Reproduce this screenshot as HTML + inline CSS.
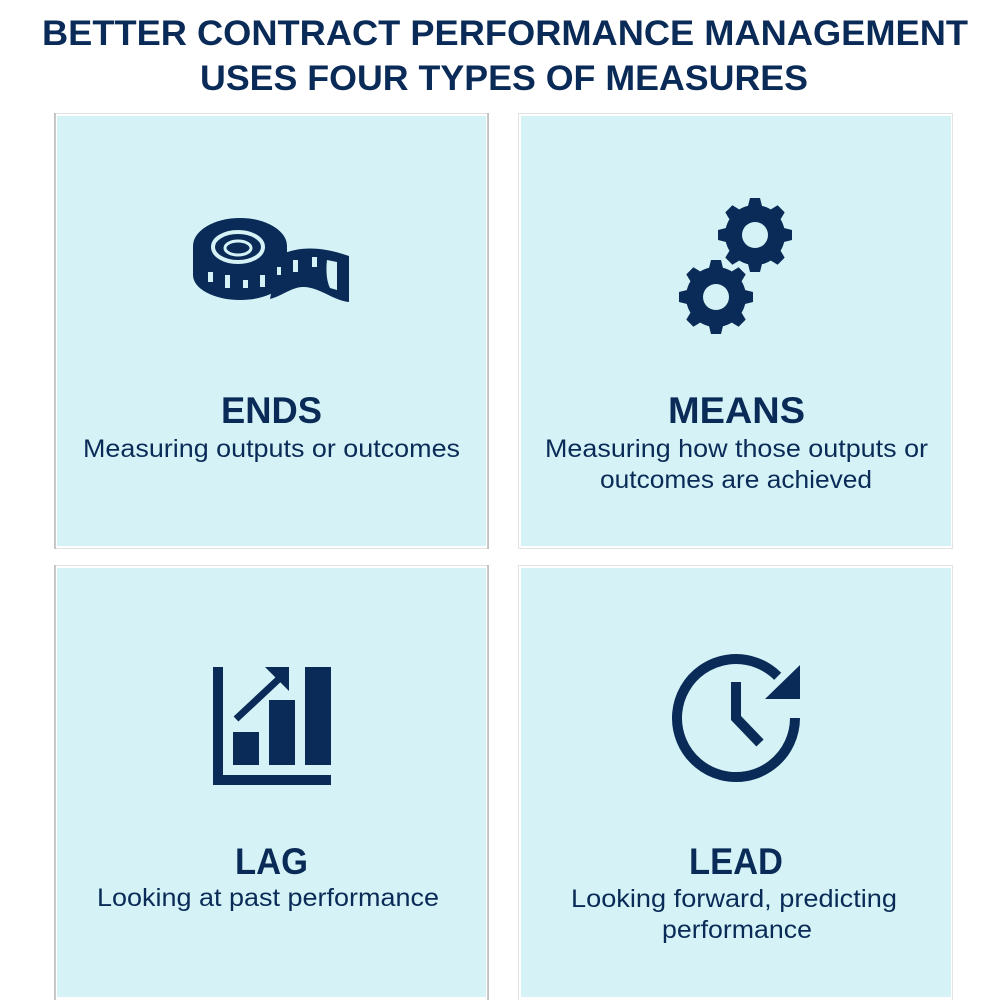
<!DOCTYPE html>
<html><head><meta charset="utf-8"><style>
html,body{margin:0;padding:0;background:#fff;}
svg{display:block;}
text{font-family:"Liberation Sans",sans-serif;fill:#0a2b57;}
</style></head><body>
<svg width="1007" height="1000" viewBox="0 0 1007 1000" xmlns="http://www.w3.org/2000/svg">
<defs>
<g id="gear">
<circle r="30"/>
<polygon points="-7.5,-27 -5,-37 5,-37 7.5,-27" transform="rotate(0)"/>
<polygon points="-7.5,-27 -5,-37 5,-37 7.5,-27" transform="rotate(45)"/>
<polygon points="-7.5,-27 -5,-37 5,-37 7.5,-27" transform="rotate(90)"/>
<polygon points="-7.5,-27 -5,-37 5,-37 7.5,-27" transform="rotate(135)"/>
<polygon points="-7.5,-27 -5,-37 5,-37 7.5,-27" transform="rotate(180)"/>
<polygon points="-7.5,-27 -5,-37 5,-37 7.5,-27" transform="rotate(225)"/>
<polygon points="-7.5,-27 -5,-37 5,-37 7.5,-27" transform="rotate(270)"/>
<polygon points="-7.5,-27 -5,-37 5,-37 7.5,-27" transform="rotate(315)"/>
</g>
</defs>
<rect width="1007" height="1000" fill="#fff"/>
<!-- Title -->
<text x="42" y="45" font-size="35" font-weight="bold" textLength="926" lengthAdjust="spacingAndGlyphs">BETTER CONTRACT PERFORMANCE MANAGEMENT</text>
<text x="200" y="90" font-size="35" font-weight="bold" textLength="608" lengthAdjust="spacingAndGlyphs">USES FOUR TYPES OF MEASURES</text>

<!-- Panels -->
<g fill="none" stroke="#e3e3e3" stroke-width="1">
<rect x="54.5" y="113.5" width="434" height="435"/>
<rect x="518.5" y="113.5" width="434" height="435"/>
<rect x="54.5" y="565.5" width="434" height="440"/>
<rect x="518.5" y="565.5" width="434" height="440"/>
</g>
<g stroke="#b8b8b8" stroke-width="1.5">
<line x1="55" y1="113" x2="55" y2="549"/>
<line x1="488" y1="113" x2="488" y2="549"/>
<line x1="55" y1="565" x2="55" y2="1000"/>
<line x1="488" y1="565" x2="488" y2="1000"/>
</g>
<g fill="#d5f3f6">
<rect x="57" y="116" width="429" height="430"/>
<rect x="521" y="116" width="430" height="430"/>
<rect x="57" y="568" width="429" height="429"/>
<rect x="521" y="568" width="430" height="429"/>
</g>

<!-- Tape measure icon -->
<g fill="#0a2b57">
<path d="M193,246 A47,28 0 0 1 287,246 L287,275 A47,25 0 0 1 193,275 Z"/>
<path d="M278,256 C298,246 320,246 349,256 L349,302 C332,300 318,286 302,287 C290,288 282,296 270,299 Z"/>
</g>
<g fill="none" stroke="#d5f3f6">
<ellipse cx="238" cy="247" rx="25" ry="15" stroke-width="4"/>
<ellipse cx="238" cy="248" rx="13" ry="7" stroke-width="3"/>
</g>
<g fill="#d5f3f6">
<rect x="208" y="272" width="5" height="10"/>
<rect x="225" y="275" width="5" height="13"/>
<rect x="243" y="280" width="5" height="8"/>
<rect x="260" y="275" width="5" height="12"/>
<rect x="277" y="267" width="4" height="8"/>
<rect x="293" y="260" width="5" height="12"/>
<rect x="312" y="257" width="5" height="10"/>
<path d="M327,260 L337,262 L337,290 L330,288 C326,280 326,268 327,260 Z"/>
</g>

<!-- Gears icon -->
<g fill="#0a2b57">
<use href="#gear" transform="translate(755,235)"/>
<use href="#gear" transform="translate(716,297)"/>
</g>
<g fill="#d5f3f6">
<circle cx="755" cy="235" r="13"/>
<circle cx="716" cy="297" r="13"/>
</g>

<!-- Bar chart icon -->
<g fill="#0a2b57">
<rect x="213" y="667" width="10" height="118"/>
<rect x="213" y="775" width="118" height="10"/>
<rect x="233" y="732" width="26" height="33"/>
<rect x="269" y="700" width="26" height="65"/>
<rect x="305" y="667" width="26" height="98"/>
<polygon points="265,667 289,667 289,691"/>
</g>
<line x1="236" y1="719" x2="282" y2="676" stroke="#0a2b57" stroke-width="7"/>

<!-- Clock icon -->
<path d="M795,718 A59,59 0 1 1 777.7,676.3" fill="none" stroke="#0a2b57" stroke-width="10"/>
<polygon points="800,665 800,699 765,699" fill="#0a2b57"/>
<path d="M736,682 L736,718 L760,743" fill="none" stroke="#0a2b57" stroke-width="10"/>

<!-- Labels -->
<text x="271.5" y="423" font-size="37" font-weight="bold" text-anchor="middle" textLength="101" lengthAdjust="spacingAndGlyphs">ENDS</text>
<text x="271.5" y="457" font-size="25" text-anchor="middle" textLength="377" lengthAdjust="spacingAndGlyphs">Measuring outputs or outcomes</text>

<text x="736.5" y="423" font-size="37" font-weight="bold" text-anchor="middle" textLength="137" lengthAdjust="spacingAndGlyphs">MEANS</text>
<text x="736.5" y="457" font-size="25" text-anchor="middle" textLength="383" lengthAdjust="spacingAndGlyphs">Measuring how those outputs or</text>
<text x="736" y="488" font-size="25" text-anchor="middle" textLength="272" lengthAdjust="spacingAndGlyphs">outcomes are achieved</text>

<text x="271.5" y="874" font-size="37" font-weight="bold" text-anchor="middle" textLength="73" lengthAdjust="spacingAndGlyphs">LAG</text>
<text x="268" y="906" font-size="25" text-anchor="middle" textLength="342" lengthAdjust="spacingAndGlyphs">Looking at past performance</text>

<text x="736" y="874" font-size="37" font-weight="bold" text-anchor="middle" textLength="94" lengthAdjust="spacingAndGlyphs">LEAD</text>
<text x="734" y="907" font-size="25" text-anchor="middle" textLength="326" lengthAdjust="spacingAndGlyphs">Looking forward, predicting</text>
<text x="737" y="938" font-size="25" text-anchor="middle" textLength="150" lengthAdjust="spacingAndGlyphs">performance</text>
</svg>
</body></html>
